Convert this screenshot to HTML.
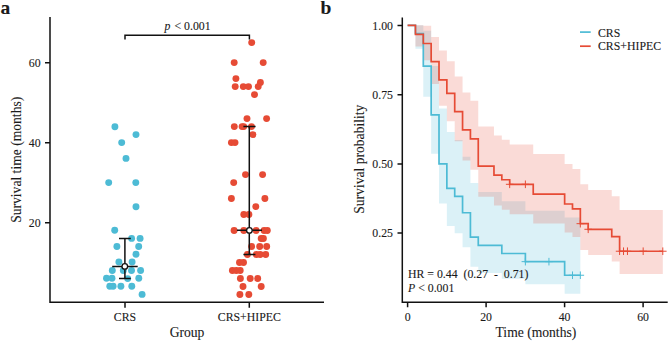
<!DOCTYPE html>
<html><head><meta charset="utf-8"><style>
html,body{margin:0;padding:0;background:#fff;width:669px;height:341px;overflow:hidden;font-family:"Liberation Serif",serif}
svg{display:block}
text{stroke:#1a1a1a;stroke-width:0.1px}
</style></head><body>
<svg width="669" height="341" viewBox="0 0 669 341">
<rect width="669" height="341" fill="#fff"/>
<g font-family="&apos;Liberation Serif&apos;, serif" fill="#1a1a1a">
<text x="0.6" y="14" font-size="19.5" font-weight="bold">a</text>
<text x="320.5" y="14.3" font-size="19.5" font-weight="bold">b</text>
</g>
<!-- panel a -->
<circle cx="114.9" cy="126.7" r="3.45" fill="#4DBBD5"/><circle cx="136.0" cy="134.6" r="3.45" fill="#4DBBD5"/><circle cx="121.7" cy="142.6" r="3.45" fill="#4DBBD5"/><circle cx="126.0" cy="158.4" r="3.45" fill="#4DBBD5"/><circle cx="108.7" cy="182.6" r="3.45" fill="#4DBBD5"/><circle cx="135.8" cy="182.6" r="3.45" fill="#4DBBD5"/><circle cx="136.0" cy="206.7" r="3.45" fill="#4DBBD5"/><circle cx="114.7" cy="230.3" r="3.45" fill="#4DBBD5"/><circle cx="131.6" cy="238.4" r="3.45" fill="#4DBBD5"/><circle cx="140.1" cy="238.4" r="3.45" fill="#4DBBD5"/><circle cx="116.9" cy="246.5" r="3.45" fill="#4DBBD5"/><circle cx="138.7" cy="246.5" r="3.45" fill="#4DBBD5"/><circle cx="136.0" cy="254.3" r="3.45" fill="#4DBBD5"/><circle cx="118.9" cy="262.0" r="3.45" fill="#4DBBD5"/><circle cx="132.1" cy="262.0" r="3.45" fill="#4DBBD5"/><circle cx="112.3" cy="270.5" r="3.45" fill="#4DBBD5"/><circle cx="123.3" cy="270.5" r="3.45" fill="#4DBBD5"/><circle cx="131.5" cy="270.5" r="3.45" fill="#4DBBD5"/><circle cx="140.6" cy="270.5" r="3.45" fill="#4DBBD5"/><circle cx="106.5" cy="278.3" r="3.45" fill="#4DBBD5"/><circle cx="112.0" cy="278.3" r="3.45" fill="#4DBBD5"/><circle cx="127.7" cy="278.6" r="3.45" fill="#4DBBD5"/><circle cx="138.8" cy="278.3" r="3.45" fill="#4DBBD5"/><circle cx="109.8" cy="286.3" r="3.45" fill="#4DBBD5"/><circle cx="113.1" cy="286.3" r="3.45" fill="#4DBBD5"/><circle cx="120.9" cy="286.3" r="3.45" fill="#4DBBD5"/><circle cx="131.8" cy="286.3" r="3.45" fill="#4DBBD5"/><circle cx="142.1" cy="294.4" r="3.45" fill="#4DBBD5"/>
<circle cx="251.7" cy="42.6" r="3.45" fill="#E64B35"/><circle cx="234.2" cy="62.6" r="3.45" fill="#E64B35"/><circle cx="263.2" cy="62.6" r="3.45" fill="#E64B35"/><circle cx="235.9" cy="78.6" r="3.45" fill="#E64B35"/><circle cx="260.4" cy="82.5" r="3.45" fill="#E64B35"/><circle cx="235.2" cy="86.6" r="3.45" fill="#E64B35"/><circle cx="243.3" cy="86.6" r="3.45" fill="#E64B35"/><circle cx="248.5" cy="86.6" r="3.45" fill="#E64B35"/><circle cx="258.2" cy="86.6" r="3.45" fill="#E64B35"/><circle cx="254.5" cy="94.6" r="3.45" fill="#E64B35"/><circle cx="247.0" cy="118.6" r="3.45" fill="#E64B35"/><circle cx="266.6" cy="118.6" r="3.45" fill="#E64B35"/><circle cx="234.3" cy="126.6" r="3.45" fill="#E64B35"/><circle cx="242.1" cy="126.6" r="3.45" fill="#E64B35"/><circle cx="243.7" cy="126.6" r="3.45" fill="#E64B35"/><circle cx="251.5" cy="126.6" r="3.45" fill="#E64B35"/><circle cx="252.9" cy="134.6" r="3.45" fill="#E64B35"/><circle cx="231.4" cy="142.6" r="3.45" fill="#E64B35"/><circle cx="235.0" cy="142.6" r="3.45" fill="#E64B35"/><circle cx="245.5" cy="174.6" r="3.45" fill="#E64B35"/><circle cx="262.6" cy="174.6" r="3.45" fill="#E64B35"/><circle cx="233.7" cy="182.6" r="3.45" fill="#E64B35"/><circle cx="231.4" cy="198.5" r="3.45" fill="#E64B35"/><circle cx="264.9" cy="198.5" r="3.45" fill="#E64B35"/><circle cx="255.8" cy="206.6" r="3.45" fill="#E64B35"/><circle cx="243.8" cy="214.5" r="3.45" fill="#E64B35"/><circle cx="248.9" cy="214.5" r="3.45" fill="#E64B35"/><circle cx="234.1" cy="230.5" r="3.45" fill="#E64B35"/><circle cx="243.8" cy="230.5" r="3.45" fill="#E64B35"/><circle cx="256.1" cy="230.5" r="3.45" fill="#E64B35"/><circle cx="264.1" cy="230.5" r="3.45" fill="#E64B35"/><circle cx="267.3" cy="230.5" r="3.45" fill="#E64B35"/><circle cx="261.2" cy="238.5" r="3.45" fill="#E64B35"/><circle cx="263.4" cy="238.5" r="3.45" fill="#E64B35"/><circle cx="251.6" cy="246.5" r="3.45" fill="#E64B35"/><circle cx="259.7" cy="246.5" r="3.45" fill="#E64B35"/><circle cx="266.7" cy="246.5" r="3.45" fill="#E64B35"/><circle cx="247.4" cy="254.5" r="3.45" fill="#E64B35"/><circle cx="256.4" cy="254.5" r="3.45" fill="#E64B35"/><circle cx="260.2" cy="254.5" r="3.45" fill="#E64B35"/><circle cx="265.7" cy="254.5" r="3.45" fill="#E64B35"/><circle cx="239.5" cy="262.5" r="3.45" fill="#E64B35"/><circle cx="243.5" cy="262.5" r="3.45" fill="#E64B35"/><circle cx="232.4" cy="270.5" r="3.45" fill="#E64B35"/><circle cx="236.3" cy="270.5" r="3.45" fill="#E64B35"/><circle cx="240.2" cy="270.5" r="3.45" fill="#E64B35"/><circle cx="240.4" cy="278.5" r="3.45" fill="#E64B35"/><circle cx="250.2" cy="278.5" r="3.45" fill="#E64B35"/><circle cx="257.7" cy="278.5" r="3.45" fill="#E64B35"/><circle cx="243.0" cy="286.5" r="3.45" fill="#E64B35"/><circle cx="261.2" cy="286.5" r="3.45" fill="#E64B35"/><circle cx="239.9" cy="294.5" r="3.45" fill="#E64B35"/><circle cx="248.8" cy="294.5" r="3.45" fill="#E64B35"/>
<g stroke="#111" stroke-width="1.5" fill="none">
<path d="M124.9,238.4 V278.6 M119,238.4 H130.8 M119,278.6 H130.8 M112.2,266.5 H137.7"/>
<path d="M249.3,126.6 V254.5 M243.4,126.6 H255.6 M243.4,254.4 H255.4 M236.9,230.3 H262"/>
</g>
<circle cx="124.8" cy="266.4" r="2.8" fill="#fff" stroke="#111" stroke-width="1.3"/>
<circle cx="249.4" cy="230.4" r="2.8" fill="#fff" stroke="#111" stroke-width="1.3"/>
<g stroke="#111" stroke-width="1.5" fill="none">
<path d="M125,39.5 V35.2 H249.4 V39.5"/>
<path d="M50,17 V302.3 H324"/>
<path d="M45,62.7 H50 M45,142.7 H50 M45,222.7 H50"/>
<path d="M125,302 V307.7 M249.3,302 V307.7"/>
</g>
<g font-family="&apos;Liberation Serif&apos;, serif" fill="#1a1a1a" font-size="11.8">
<text x="40.6" y="66.8" text-anchor="end">60</text>
<text x="40.6" y="146.8" text-anchor="end">40</text>
<text x="40.6" y="226.8" text-anchor="end">20</text>
<text x="125" y="320.6" text-anchor="middle">CRS</text>
<text x="249.3" y="320.6" text-anchor="middle">CRS+HIPEC</text>
<text x="164.4" y="29.6" font-style="italic">p</text><text x="174.5" y="29.6" stroke="#1a1a1a" stroke-width="0.25">&lt;</text><text x="184.1" y="29.6">0.001</text>
</g>
<g font-family="&apos;Liberation Serif&apos;, serif" fill="#1a1a1a" font-size="13.6">
<text x="187" y="337" text-anchor="middle">Group</text>
<text transform="translate(20.8,159.8) rotate(-90)" text-anchor="middle">Survival time (months)</text>
</g>
<!-- panel b -->
<path d="M407.60,25.33 L415.45,25.33 L415.45,25.33 L423.30,25.33 L423.30,30.68 L431.16,30.68 L431.16,65.92 L439.01,65.92 L439.01,108.52 L446.86,108.52 L446.86,131.90 L454.71,131.90 L454.71,140.00 L462.56,140.00 L462.56,156.65 L470.42,156.65 L470.42,182.90 L478.27,182.90 L478.27,192.01 L501.82,192.01 L501.82,201.33 L525.38,201.33 L525.38,210.85 L564.64,210.85 L564.64,217.61 L580.34,217.61 L580.34,293.70 L564.64,293.70 L564.64,284.27 L525.38,284.27 L525.38,278.75 L501.82,278.75 L501.82,272.92 L478.27,272.92 L478.27,266.83 L470.42,266.83 L470.42,247.27 L462.56,247.27 L462.56,233.29 L454.71,233.29 L454.71,226.06 L446.86,226.06 L446.86,203.41 L439.01,203.41 L439.01,153.85 L431.16,153.85 L431.16,96.86 L423.30,96.86 L423.30,48.76 L415.45,48.76 L415.45,25.33 L407.60,25.33Z" fill="#4DBBD5" fill-opacity="0.2"/>
<path d="M407.60,25.33 L415.45,25.33 L415.45,25.33 L423.30,25.33 L423.30,25.70 L431.16,25.70 L431.16,37.01 L439.01,37.01 L439.01,50.41 L446.86,50.41 L446.86,61.27 L454.71,61.27 L454.71,76.55 L462.56,76.55 L462.56,92.59 L470.42,92.59 L470.42,100.85 L478.27,100.85 L478.27,126.54 L493.97,126.54 L493.97,135.39 L501.82,135.39 L501.82,139.87 L509.68,139.87 L509.68,144.39 L533.23,144.39 L533.23,154.04 L564.64,154.04 L564.64,163.89 L572.49,163.89 L572.49,168.90 L580.34,168.90 L580.34,184.25 L588.20,184.25 L588.20,189.88 L611.75,189.88 L611.75,196.27 L619.60,196.27 L619.60,209.89 L662.79,209.89 L662.79,274.09 L619.60,274.09 L619.60,261.61 L611.75,261.61 L611.75,254.90 L588.20,254.90 L588.20,249.94 L580.34,249.94 L580.34,236.93 L572.49,236.93 L572.49,232.47 L564.64,232.47 L564.64,223.41 L533.23,223.41 L533.23,214.14 L509.68,214.14 L509.68,209.86 L501.82,209.86 L501.82,205.55 L493.97,205.55 L493.97,196.82 L478.27,196.82 L478.27,169.74 L470.42,169.74 L470.42,160.41 L462.56,160.41 L462.56,141.26 L454.71,141.26 L454.71,121.36 L446.86,121.36 L446.86,105.83 L439.01,105.83 L439.01,84.03 L431.16,84.03 L431.16,60.15 L423.30,60.15 L423.30,46.51 L415.45,46.51 L415.45,25.33 L407.60,25.33Z" fill="#E64B35" fill-opacity="0.2"/>
<path d="M407.60,25.33 L415.45,25.33 L415.45,33.48 L423.30,33.48 L423.30,66.08 L431.16,66.08 L431.16,114.97 L439.01,114.97 L439.01,163.86 L446.86,163.86 L446.86,188.31 L454.71,188.31 L454.71,196.46 L462.56,196.46 L462.56,212.76 L470.42,212.76 L470.42,237.21 L478.27,237.21 L478.27,245.36 L501.82,245.36 L501.82,253.51 L525.38,253.51 L525.38,261.65 L564.64,261.65 L564.64,275.24 L580.34,275.24" stroke="#4DBBD5" stroke-width="1.7" fill="none"/>
<path d="M521.58,261.65 H529.18 M525.38,257.85 V265.45" stroke="#4DBBD5" stroke-width="1.0" fill="none"/><path d="M545.14,261.65 H552.74 M548.94,257.85 V265.45" stroke="#4DBBD5" stroke-width="1.0" fill="none"/><path d="M568.69,275.24 H576.29 M572.49,271.44 V279.04" stroke="#4DBBD5" stroke-width="1.0" fill="none"/><path d="M576.54,275.24 H584.14 M580.34,271.44 V279.04" stroke="#4DBBD5" stroke-width="1.0" fill="none"/>
<path d="M407.60,25.33 L415.45,25.33 L415.45,34.41 L423.30,34.41 L423.30,43.50 L431.16,43.50 L431.16,61.67 L439.01,61.67 L439.01,79.84 L446.86,79.84 L446.86,93.46 L454.71,93.46 L454.71,111.63 L462.56,111.63 L462.56,129.80 L470.42,129.80 L470.42,138.88 L478.27,138.88 L478.27,166.14 L493.97,166.14 L493.97,175.22 L501.82,175.22 L501.82,179.76 L509.68,179.76 L509.68,184.30 L533.23,184.30 L533.23,194.15 L564.64,194.15 L564.64,203.99 L572.49,203.99 L572.49,208.91 L580.34,208.91 L580.34,223.67 L588.20,223.67 L588.20,229.29 L611.75,229.29 L611.75,236.60 L619.60,236.60 L619.60,251.23 L662.79,251.23" stroke="#E64B35" stroke-width="1.7" fill="none"/>
<path d="M505.88,184.30 H513.48 M509.68,180.50 V188.10" stroke="#E64B35" stroke-width="1.0" fill="none"/><path d="M521.58,184.30 H529.18 M525.38,180.50 V188.10" stroke="#E64B35" stroke-width="1.0" fill="none"/><path d="M576.54,223.67 H584.14 M580.34,219.87 V227.47" stroke="#E64B35" stroke-width="1.0" fill="none"/><path d="M584.40,229.29 H592.00 M588.20,225.49 V233.09" stroke="#E64B35" stroke-width="1.0" fill="none"/><path d="M615.80,251.23 H623.40 M619.60,247.43 V255.03" stroke="#E64B35" stroke-width="1.0" fill="none"/><path d="M619.73,251.23 H627.33 M623.53,247.43 V255.03" stroke="#E64B35" stroke-width="1.0" fill="none"/><path d="M623.66,251.23 H631.26 M627.46,247.43 V255.03" stroke="#E64B35" stroke-width="1.0" fill="none"/><path d="M639.36,251.23 H646.96 M643.16,247.43 V255.03" stroke="#E64B35" stroke-width="1.0" fill="none"/><path d="M658.99,251.23 H666.59 M662.79,247.43 V255.03" stroke="#E64B35" stroke-width="1.0" fill="none"/>
<g stroke="#111" stroke-width="1.5" fill="none">
<path d="M402.3,17.4 V302.3 H667.7"/>
<path d="M397.5,25.5 H402.3 M397.5,94.7 H402.3 M397.5,163.9 H402.3 M397.5,233.1 H402.3"/>
<path d="M407.6,302.3 V307.3 M486.1,302.3 V307.3 M564.6,302.3 V307.3 M643.1,302.3 V307.3"/>
</g>
<g font-family="&apos;Liberation Serif&apos;, serif" fill="#1a1a1a" font-size="11.8">
<text x="393" y="29.6" text-anchor="end">1.00</text>
<text x="393" y="98.8" text-anchor="end">0.75</text>
<text x="393" y="168" text-anchor="end">0.50</text>
<text x="393" y="237.2" text-anchor="end">0.25</text>
<text x="407.6" y="321" text-anchor="middle">0</text>
<text x="486.1" y="321" text-anchor="middle">20</text>
<text x="564.6" y="321" text-anchor="middle">40</text>
<text x="643.1" y="321" text-anchor="middle">60</text>
<text x="408" y="278.4" xml:space="preserve">HR = 0.44  (0.27  -  0.71)</text>
<text x="408" y="292.1"><tspan font-style="italic">P</tspan> &lt; 0.001</text>
<text x="598" y="36.7">CRS</text>
<text x="598" y="50">CRS+HIPEC</text>
</g>
<path d="M580,32.1 H590.7" stroke="#4DBBD5" stroke-width="1.7"/>
<path d="M580,46.2 H590.7" stroke="#E64B35" stroke-width="1.7"/>
<g font-family="&apos;Liberation Serif&apos;, serif" fill="#1a1a1a" font-size="13.6">
<text x="535.9" y="336.9" text-anchor="middle">Time (months)</text>
<text transform="translate(364.1,159.2) rotate(-90)" text-anchor="middle">Survival probability</text>
</g>
</svg>
</body></html>
